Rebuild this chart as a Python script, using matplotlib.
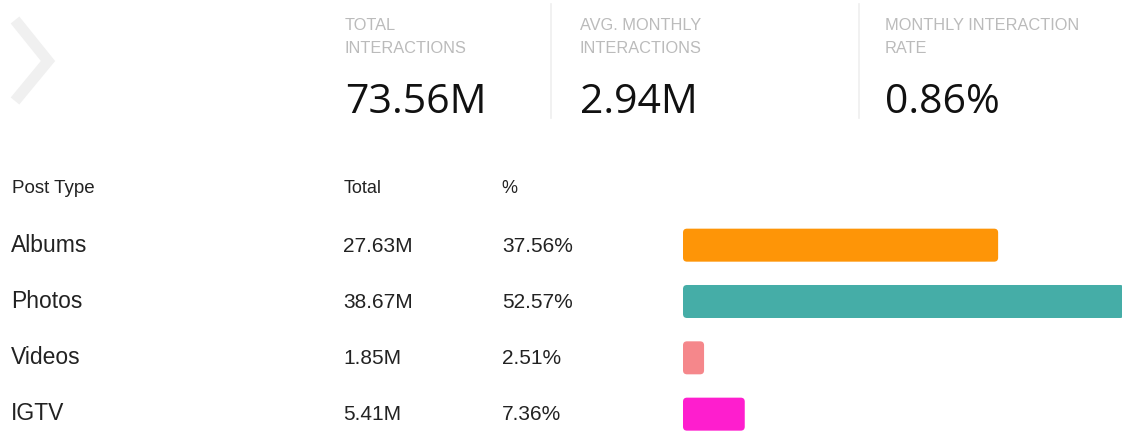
import matplotlib
matplotlib.use("Agg")
import matplotlib.pyplot as plt
from matplotlib.patches import FancyBboxPatch
from matplotlib.lines import Line2D

# summary cards
card_labels = ["TOTAL\nINTERACTIONS", "AVG. MONTHLY\nINTERACTIONS",
               "MONTHLY INTERACTION\nRATE"]
card_values = ["73.56M", "2.94M", "0.86%"]

# table
post_types = ["Albums", "Photos", "Videos", "IGTV"]
totals = ["27.63M", "38.67M", "1.85M", "5.41M"]
shares = [37.56, 52.57, 2.51, 7.36]
bar_colors = ["#fe9507", "#45ada7", "#f5878b", "#fe1ece"]

W, H = 1122, 434


def main():
    fig = plt.figure(figsize=(W / 100, H / 100), dpi=100)

    # overlay axes in pixel coordinates for text and decorations
    ov = fig.add_axes([0, 0, 1, 1])
    ov.set_xlim(0, W)
    ov.set_ylim(H, 0)
    ov.axis("off")

    # chevron
    ov.add_line(Line2D([15, 48, 15], [20, 61, 101], color="#f0f0f0",
                       lw=8, solid_joinstyle="miter", solid_capstyle="butt"))

    card_x = [345, 580, 885]
    for x, lab, val in zip(card_x, card_labels, card_values):
        l1, l2 = lab.split("\n")
        ov.text(x, 30, l1, fontsize=11.8, color="#bbbbbb", va="baseline",
                family="Liberation Sans")
        ov.text(x, 53, l2, fontsize=11.8, color="#bbbbbb", va="baseline",
                family="Liberation Sans")
        ov.text(x, 113, val, fontsize=29.5, color="#111111", va="baseline",
                family="Open Sans")

    for sx in [551, 859]:
        ov.plot([sx, sx], [4, 118], color="#efefef", lw=1.2)

    # table headers
    hdr = dict(fontsize=13.5, color="#222222", va="baseline",
               family="Liberation Sans")
    ov.text(12, 193, "Post Type", **hdr)
    ov.text(344, 193, "Total", **dict(hdr, fontsize=13))
    ov.text(501, 193, "%", **dict(hdr, fontsize=13))

    row_y = [252, 308, 364, 420]
    for y, name, tot, pct in zip(row_y, post_types, totals, shares):
        ov.text(11, y, name, fontsize=16.5, color="#222222", va="baseline",
                family="Liberation Sans")
        ov.text(343, y, tot, fontsize=15, color="#222222", va="baseline",
                family="Liberation Sans")
        ov.text(502, y, f"{pct:.2f}%", fontsize=15, color="#222222",
                va="baseline", family="Liberation Sans")

    # bar axes
    px_per_pct = 8.39
    row_px = 56.33
    left, top = 683, 217
    ax = fig.add_axes([left / W, 0, (W - left) / W, (H - top) / H])
    ax.set_xlim(0, (W - left) / px_per_pct)
    ax.set_ylim(-0.5 + (H - top) / row_px, -0.5)
    ax.axis("off")
    bars = ax.barh(range(len(shares)), shares, height=33 / row_px,
                   color=bar_colors)
    r = 4 / px_per_pct
    aspect = px_per_pct / row_px
    for b, c in zip(bars, bar_colors):
        x0, y0, w, h = b.get_x(), b.get_y(), b.get_width(), b.get_height()
        b.remove()
        ax.add_patch(FancyBboxPatch((x0, y0), w, h,
                                    boxstyle=f"round,pad=0,rounding_size={r}",
                                    mutation_aspect=aspect, fc=c, ec="none"))

    fig.savefig("out.png", dpi=100)


if __name__ == "__main__":
    main()
